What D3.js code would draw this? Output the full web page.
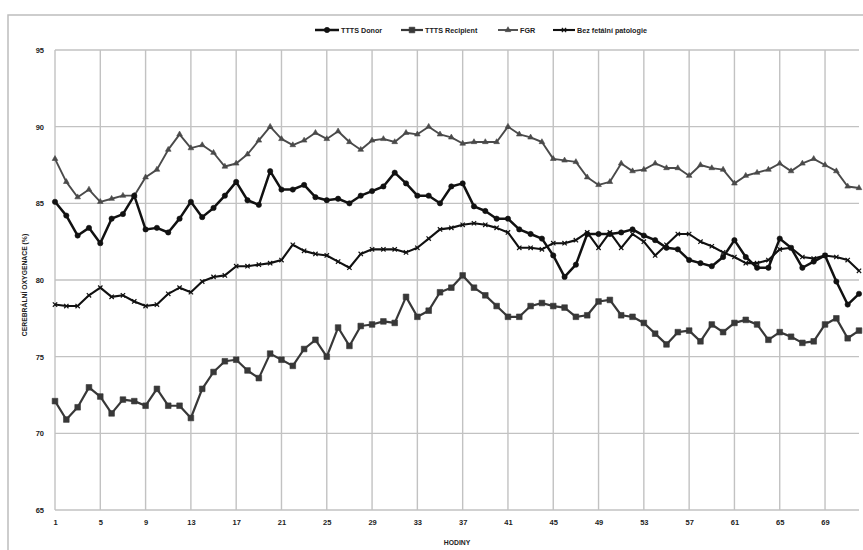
<!DOCTYPE html>
<html>
<head>
  <meta charset="UTF-8">
  <title>Cerebrální oxygenace</title>
  <style>
    body { margin: 0; background: #fff; }
    text { font-family: "Liberation Sans", Arial, sans-serif; font-weight: bold; fill: #222; }
    .grid line { stroke: #c2c2c2; stroke-width: 1.4px; }
  </style>
</head>
<body>
  <svg width="863" height="550" id="chart"></svg>
  <script src="https://d3js.org/d3.v7.min.js"></script>
  <script>
    // hours on the category axis
    var hours = d3.range(1, 73);
    var xTickLabels = [1, 5, 9, 13, 17, 21, 25, 29, 33, 37, 41, 45, 49, 53, 57, 61, 65, 69];
    var yTickLabels = [65, 70, 75, 80, 85, 90, 95];

    var seriesNames = ["TTTS Donor", "TTTS Recipient", "FGR", "Bez fetální patologie"];

    var donor = [85.1, 84.2, 82.9, 83.4, 82.4, 84.0, 84.3, 85.5, 83.3, 83.4,
      83.1, 84.0, 85.1, 84.1, 84.7, 85.5, 86.4, 85.2, 84.9, 87.1,
      85.9, 85.9, 86.2, 85.4, 85.2, 85.3, 85.0, 85.5, 85.8, 86.1,
      87.0, 86.3, 85.5, 85.5, 85.0, 86.1, 86.3, 84.8, 84.5, 84.0,
      84.0, 83.3, 83.0, 82.7, 81.6, 80.2, 81.0, 83.0, 83.0, 83.0,
      83.1, 83.3, 82.9, 82.6, 82.1, 82.0, 81.3, 81.1, 80.9, 81.5,
      82.6, 81.5, 80.8, 80.8, 82.7, 82.1, 80.8, 81.2, 81.6, 79.9,
      78.4, 79.1];

    var recipient = [72.1, 70.9, 71.7, 73.0, 72.4, 71.3, 72.2, 72.1, 71.8, 72.9,
      71.8, 71.8, 71.0, 72.9, 74.0, 74.7, 74.8, 74.1, 73.6, 75.2,
      74.8, 74.4, 75.5, 76.1, 75.0, 76.9, 75.7, 77.0, 77.1, 77.3,
      77.2, 78.9, 77.6, 78.0, 79.2, 79.5, 80.3, 79.5, 79.0, 78.3,
      77.6, 77.6, 78.3, 78.5, 78.3, 78.2, 77.6, 77.7, 78.6, 78.7,
      77.7, 77.6, 77.2, 76.5, 75.8, 76.6, 76.7, 76.0, 77.1, 76.6,
      77.2, 77.4, 77.1, 76.1, 76.6, 76.3, 75.9, 76.0, 77.1, 77.5,
      76.2, 76.7];

    var fgr = [87.9, 86.4, 85.4, 85.9, 85.1, 85.3, 85.5, 85.5, 86.7, 87.2,
      88.5, 89.5, 88.6, 88.8, 88.3, 87.4, 87.6, 88.2, 89.1, 90.0,
      89.2, 88.8, 89.1, 89.6, 89.2, 89.7, 89.0, 88.5, 89.1, 89.2,
      89.0, 89.6, 89.5, 90.0, 89.5, 89.3, 88.9, 89.0, 89.0, 89.0,
      90.0, 89.5, 89.3, 89.0, 87.9, 87.8, 87.7, 86.7, 86.2, 86.4,
      87.6, 87.1, 87.2, 87.6, 87.3, 87.3, 86.8, 87.5, 87.3, 87.2,
      86.3, 86.8, 87.0, 87.2, 87.6, 87.1, 87.6, 87.9, 87.5, 87.1,
      86.1, 86.0];

    var bez = [78.4, 78.3, 78.3, 79.0, 79.5, 78.9, 79.0, 78.6, 78.3, 78.4,
      79.1, 79.5, 79.2, 79.9, 80.2, 80.3, 80.9, 80.9, 81.0, 81.1,
      81.3, 82.3, 81.9, 81.7, 81.6, 81.2, 80.8, 81.7, 82.0, 82.0,
      82.0, 81.8, 82.1, 82.7, 83.3, 83.4, 83.6, 83.7, 83.6, 83.4,
      83.1, 82.1, 82.1, 82.0, 82.4, 82.4, 82.6, 83.1, 82.1, 83.1,
      82.1, 83.0, 82.5, 81.6, 82.3, 83.0, 83.0, 82.5, 82.2, 81.8,
      81.5, 81.1, 81.1, 81.3, 82.0, 82.1, 81.5, 81.4, 81.6, 81.5,
      81.3, 80.6];

    var svg = d3.select("#chart");

    // outer frame of the chart
    svg.append("rect")
      .attr("x", 8).attr("y", 15)
      .attr("width", 900).attr("height", 600)
      .attr("fill", "none")
      .attr("stroke", "#bdbdbd")
      .attr("stroke-width", 1.5);

    var x = d3.scaleLinear().domain([1, 72]).range([55, 859]);
    var y = d3.scaleLinear().domain([65, 95]).range([510, 50]);

    // horizontal gridlines
    var grid = svg.append("g").attr("class", "grid");
    grid.selectAll(".hg").data(yTickLabels).enter().append("line")
      .attr("x1", x(1)).attr("x2", x(72))
      .attr("y1", function (d) { return y(d); })
      .attr("y2", function (d) { return y(d); });
    // vertical gridlines at labelled hours
    grid.selectAll(".vg").data(xTickLabels).enter().append("line")
      .attr("x1", function (d) { return x(d); })
      .attr("x2", function (d) { return x(d); })
      .attr("y1", y(95)).attr("y2", y(65));

    // axes (labels only, Excel style)
    var yAxis = svg.append("g")
      .attr("transform", "translate(" + x(1) + ",0)")
      .call(d3.axisLeft(y).tickValues(yTickLabels).tickSize(0).tickPadding(11));
    yAxis.select(".domain").remove();
    yAxis.selectAll("text").style("font-size", "7.5px").style("font-family", "'Liberation Sans', Arial, sans-serif");

    var xAxis = svg.append("g")
      .attr("transform", "translate(0," + y(65) + ")")
      .call(d3.axisBottom(x).tickValues(xTickLabels).tickSize(0).tickPadding(10).tickFormat(d3.format("d")));
    xAxis.select(".domain").remove();
    xAxis.selectAll("text").style("font-size", "7.5px").style("font-family", "'Liberation Sans', Arial, sans-serif");

    // axis titles
    svg.append("text")
      .attr("transform", "translate(27,285) rotate(-90)")
      .attr("text-anchor", "middle")
      .style("font-size", "6.8px")
      .text("CEREBRÁLNÍ OXYGENACE (%)");

    svg.append("text")
      .attr("x", 457).attr("y", 545)
      .attr("text-anchor", "middle")
      .style("font-size", "6.8px")
      .text("HODINY");

    var line = d3.line()
      .x(function (d, i) { return x(hours[i]); })
      .y(function (d) { return y(d); });

    var series = [
      { name: seriesNames[2], values: fgr, color: "#4a4a4a", width: 1.9, marker: "triangle" },
      { name: seriesNames[1], values: recipient, color: "#383838", width: 2.2, marker: "square" },
      { name: seriesNames[3], values: bez, color: "#111", width: 2.1, marker: "cross" },
      { name: seriesNames[0], values: donor, color: "#111", width: 2.5, marker: "circle" }
    ];

    var symbolType = {
      triangle: d3.symbolTriangle,
      square: d3.symbolSquare,
      cross: d3.symbolTimes,
      circle: d3.symbolCircle
    };
    var symbolSize = { triangle: 14, square: 32, cross: 14, circle: 22 };

    function drawMarker(g, s, px, py) {
      var p = g.append("path")
        .attr("transform", "translate(" + px + "," + py + ")")
        .attr("d", d3.symbol().type(symbolType[s.marker]).size(symbolSize[s.marker])());
      if (s.marker === "cross") {
        p.attr("fill", "none").attr("stroke", s.color).attr("stroke-width", 1.2);
      } else {
        p.attr("fill", s.color).attr("stroke", s.color).attr("stroke-width", 0.6);
      }
    }

    series.forEach(function (s) {
      var g = svg.append("g");
      g.append("path")
        .attr("d", line(s.values))
        .attr("fill", "none")
        .attr("stroke", s.color)
        .attr("stroke-width", s.width)
        .attr("stroke-linejoin", "round");
      s.values.forEach(function (v, i) {
        drawMarker(g, s, x(hours[i]), y(v));
      });
    });

    // legend
    var legendItems = [
      { s: series[3], lx: 315, tx: 341 },
      { s: series[1], lx: 401, tx: 425 },
      { s: series[0], lx: 498, tx: 520 },
      { s: series[2], lx: 553, tx: 577 }
    ];
    var lg = svg.append("g");
    legendItems.forEach(function (it) {
      var s = it.s;
      lg.append("line")
        .attr("x1", it.lx).attr("x2", it.tx - 2)
        .attr("y1", 30).attr("y2", 30)
        .attr("stroke", s.color).attr("stroke-width", s.width);
      drawMarker(lg, s, (it.lx + it.tx - 2) / 2, 30);
      lg.append("text")
        .attr("x", it.tx).attr("y", 32.5)
        .style("font-size", "7.2px")
        .text(s.name);
    });
  </script>
</body>
</html>
